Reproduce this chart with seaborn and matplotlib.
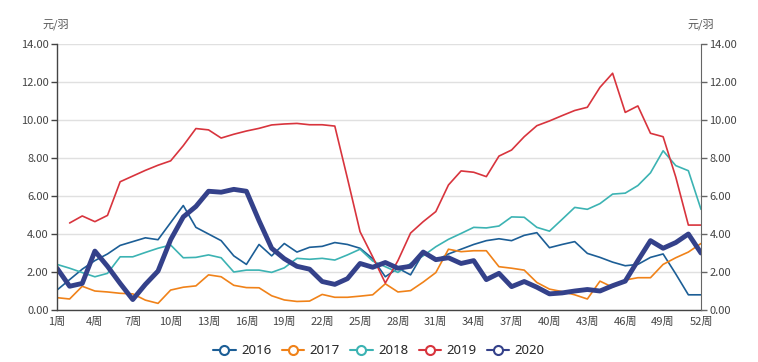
import matplotlib
matplotlib.use("Agg")
import matplotlib.pyplot as plt
from matplotlib.lines import Line2D
import numpy as np
import pandas as pd
import seaborn as sns

weeks = list(range(1, 53))

y2016 = [1.05, 1.6, 2.15, 2.6, 2.95, 3.4, 3.6, 3.8, 3.7, 4.6, 5.5, 4.35, 4.0, 3.65, 2.85, 2.4,
         3.45, 2.85, 3.5, 3.05, 3.3, 3.35, 3.55, 3.45, 3.25, 2.7, 1.75, 2.2, 1.85, 3.0, 2.6, 2.95,
         3.2, 3.45, 3.65, 3.75, 3.65, 3.93, 4.07, 3.28, 3.45, 3.6, 2.98, 2.77, 2.52, 2.33, 2.4,
         2.77, 2.95, 1.9, 0.8, 0.8]
y2017 = [0.65, 0.58, 1.25, 1.0, 0.95, 0.88, 0.85, 0.52, 0.35, 1.05, 1.2, 1.27, 1.85, 1.75, 1.3,
         1.18, 1.17, 0.75, 0.53, 0.45, 0.47, 0.82, 0.67, 0.67, 0.73, 0.8, 1.38, 0.95, 1.02, 1.47,
         1.97, 3.2, 3.07, 3.12, 3.12, 2.28, 2.2, 2.1, 1.45, 1.1, 0.97, 0.8, 0.58, 1.52, 1.2, 1.58,
         1.7, 1.7, 2.4, 2.75, 3.05, 3.5]
y2018 = [2.4, 2.2, 1.97, 1.75, 1.93, 2.8, 2.8, 3.03, 3.25, 3.42, 2.75, 2.77, 2.9, 2.75, 2.0, 2.1,
         2.1, 1.98, 2.22, 2.72, 2.67, 2.72, 2.63, 2.9, 3.2, 2.58, 2.28, 1.98, 2.45, 2.85, 3.33,
         3.72, 4.03, 4.35, 4.32, 4.42, 4.9, 4.88, 4.35, 4.15, 4.77, 5.4, 5.3, 5.6, 6.1, 6.15,
         6.55, 7.22, 8.38, 7.6, 7.33, 5.3]
y2019 = [np.nan, 4.58, 4.95, 4.65, 4.98, 6.75, 7.05, 7.35, 7.62, 7.85, 8.65, 9.55, 9.48, 9.05,
         9.25, 9.42, 9.56, 9.74, 9.79, 9.82, 9.75, 9.75, 9.68, 6.93, 4.12, 2.8, 1.42, 2.6, 4.05,
         4.65, 5.18, 6.58, 7.32, 7.25, 7.02, 8.1, 8.42, 9.12, 9.7, 9.95, 10.23, 10.5, 10.67,
         11.72, 12.46, 10.4, 10.74, 9.3, 9.12, 7.0, 4.47, 4.47]
y2020 = [2.2, 1.25, 1.4, 3.1, 2.3, 1.4, 0.55, 1.35, 2.05, 3.7, 4.9, 5.45, 6.25, 6.2, 6.35, 6.25,
         4.7, 3.25, 2.7, 2.3, 2.15, 1.5, 1.35, 1.65, 2.45, 2.25, 2.5, 2.2, 2.3, 3.05, 2.65, 2.75,
         2.45, 2.6, 1.6, 1.93, 1.23, 1.5, 1.2, 0.85, 0.9, 1.0, 1.08, 1.0, 1.28, 1.52, 2.6, 3.65,
         3.25, 3.55, 4.0, 3.0]

years = ["2016", "2017", "2018", "2019", "2020"]
series = [y2016, y2017, y2018, y2019, y2020]
colors = ["#1c5e96", "#f08219", "#3cb3b3", "#d8343d", "#34418a"]
widths = [1.2, 1.2, 1.2, 1.2, 3.5]

df = pd.DataFrame({"week": weeks})
for yr, vals in zip(years, series):
    df[yr] = vals

sns.set_style("white")
plt.rcParams["font.family"] = ["Noto Sans CJK SC", "DejaVu Sans"]

fig = plt.figure(figsize=(7.58, 3.62), dpi=100)
ax = fig.add_axes([0.0752, 0.1436, 0.8496, 0.7349])

for yr, c, lw in zip(years, colors, widths):
    sns.lineplot(data=df, x="week", y=yr, color=c, linewidth=lw, ax=ax)

ax.set_xlim(1, 52)
ax.set_ylim(0, 14)
yt = np.arange(0, 15, 2)
ax.set_yticks(yt)
ax.set_yticklabels([f"{v:.2f}" for v in yt])
xt = list(range(1, 53, 3))
ax.set_xticks(xt)
ax.set_xticklabels([f"{w}周" for w in xt])
ax.set_xlabel("")
ax.set_ylabel("")
ax.grid(axis="y", color="#e0e0e0", linewidth=1)
ax.set_axisbelow(True)
for s in ["top", "right"]:
    ax.spines[s].set_visible(False)
for s in ["left", "bottom"]:
    ax.spines[s].set_color("#444444")
    ax.spines[s].set_linewidth(1)
ax.tick_params(axis="both", length=4, width=1, color="#444444", labelsize=8, labelcolor="#444444", pad=1)
ax.tick_params(axis="y", pad=2)

ax2 = ax.twinx()
ax2.set_ylim(0, 14)
ax2.set_yticks(yt)
ax2.set_yticklabels([f"{v:.2f}" for v in yt])
for s in ["top", "left", "bottom"]:
    ax2.spines[s].set_visible(False)
ax2.spines["right"].set_color("#666666")
ax2.tick_params(axis="y", length=4, width=1, color="#666666", labelsize=8, labelcolor="#444444", pad=2)

fig.text(0.074, 0.925, "元/羽", fontsize=8, color="#555555", ha="center")
fig.text(0.924, 0.925, "元/羽", fontsize=8, color="#555555", ha="center")

handles = [Line2D([0], [0], color=c, linewidth=1.5, marker="o", markersize=6.5,
                  markerfacecolor="white", markeredgewidth=1.5) for c in colors]
fig.legend(handles, years, loc="lower center", bbox_to_anchor=(0.5, -0.02), ncol=5,
           frameon=False, fontsize=9.5, handlelength=1.7, handletextpad=0.4,
           columnspacing=0.8, prop={"family": ["Noto Sans", "DejaVu Sans"], "size": 9.5})

fig.savefig("out.png", dpi=100)
